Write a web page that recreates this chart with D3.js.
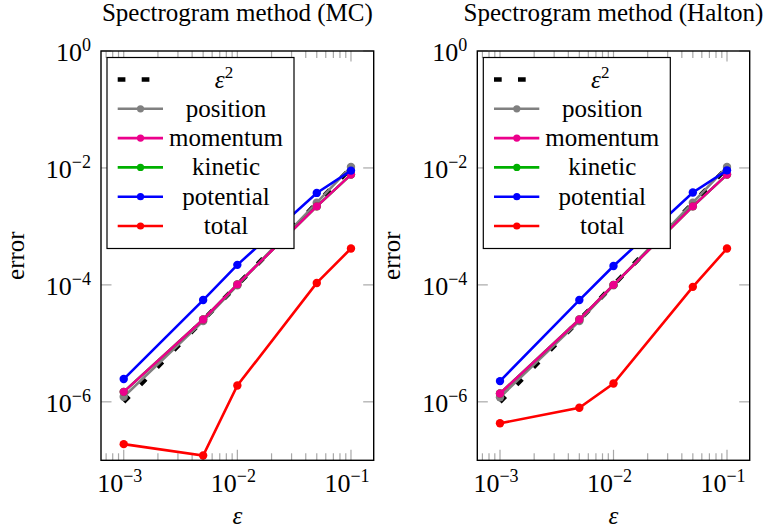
<!DOCTYPE html>
<html>
<head>
<meta charset="utf-8">
<script src="https://cdn.jsdelivr.net/npm/d3@7"></script>
<style>
  body { margin: 0; background: #fff; }
  svg { display: block; }
</style>
</head>
<body>
<div id="chart"></div>
<script>
// step sizes and reference ticks
const epsilon = [1e-3, 5e-3, 1e-2, 5e-2, 1e-1];
const epsSquared = [1e-6, 2.5e-5, 1e-4, 2.5e-3, 1e-2];
const xTickValues = [1e-3, 1e-2, 1e-1];
const yTickValues = [1e0, 1e-2, 1e-4, 1e-6];

// Monte Carlo panel errors
const mcPosition = [1.22e-6, 2.4e-5, 9.8e-5, 2.55e-3, 1.04e-2];
const mcMomentum = [1.48e-6, 2.56e-5, 1.02e-4, 2.2e-3, 7.7e-3];
const mcKinetic = [1.48e-6, 2.56e-5, 1.02e-4, 2.2e-3, 7.7e-3];
const mcPotential = [2.45e-6, 5.5e-5, 2.2e-4, 3.74e-3, 9.0e-3];
const mcTotal = [1.89e-7, 1.21e-7, 1.9e-6, 1.08e-4, 4.19e-4];

// Halton panel errors
const haltonPosition = [1.2e-6, 2.4e-5, 9.8e-5, 2.55e-3, 1.04e-2];
const haltonMomentum = [1.39e-6, 2.56e-5, 1.0e-4, 2.2e-3, 7.7e-3];
const haltonKinetic = [1.39e-6, 2.56e-5, 1.0e-4, 2.2e-3, 7.7e-3];
const haltonPotential = [2.26e-6, 5.5e-5, 2.1e-4, 3.8e-3, 9.1e-3];
const haltonTotal = [4.3e-7, 7.9e-7, 2.06e-6, 9.25e-5, 4.19e-4];

const legendNames = ["position", "momentum", "kinetic", "potential", "total"];
const seriesColors = {
  position: "#808080",
  momentum: "#ec008c",
  kinetic: "#00b000",
  potential: "#0000ff",
  total: "#ff0000"
};

const width = 780;
const height = 531;
const plotTop = 51;
const plotBottom = 460.3;
const serif = "'Liberation Serif', 'DejaVu Serif', serif";

const svg = d3.select("#chart")
  .append("svg")
  .attr("width", width)
  .attr("height", height)
  .attr("font-family", serif)
  .style("font-family", serif);

function superLabel(sel, exp) {
  sel.append("tspan").text("10");
  sel.append("tspan")
    .attr("font-size", 18)
    .attr("dy", -10)
    .text(exp === 0 ? "0" : "\u2212" + Math.abs(exp));
}

function renderPanel({ left, right, title, series, clipId }) {
  const x = d3.scaleLog().domain([Math.pow(10, -3.2), Math.pow(10, -0.8)]).range([left, right]);
  const y = d3.scaleLog().domain([1e-7, 1e0]).range([plotBottom, plotTop]);
  const g = svg.append("g");

  g.append("clipPath").attr("id", clipId)
    .append("rect")
    .attr("x", left).attr("y", plotTop)
    .attr("width", right - left).attr("height", plotBottom - plotTop);

  // minor + major x ticks on bottom and top
  const minors = [];
  for (let k = -4; k <= -1; k += 1) {
    for (let m = 2; m <= 9; m += 1) {
      const v = m * Math.pow(10, k);
      if (v > x.domain()[0] && v < x.domain()[1]) minors.push(v);
    }
  }
  const tickColor = "#a8a8a8";
  [plotBottom, plotTop].forEach((yy) => {
    const dir = yy === plotBottom ? -1 : 1;
    g.selectAll(null).data(minors).join("line")
      .attr("x1", (d) => x(d)).attr("x2", (d) => x(d))
      .attr("y1", yy).attr("y2", yy + dir * 7)
      .attr("stroke", tickColor).attr("stroke-width", 1.2);
    g.selectAll(null).data(xTickValues).join("line")
      .attr("x1", (d) => x(d)).attr("x2", (d) => x(d))
      .attr("y1", yy).attr("y2", yy + dir * 10.5)
      .attr("stroke", tickColor).attr("stroke-width", 1.2);
  });
  [left, right].forEach((xx) => {
    const dir = xx === left ? 1 : -1;
    g.selectAll(null).data(yTickValues).join("line")
      .attr("x1", xx).attr("x2", xx + dir * 10.5)
      .attr("y1", (d) => y(d)).attr("y2", (d) => y(d))
      .attr("stroke", tickColor).attr("stroke-width", 1.2);
  });

  // tick labels
  g.selectAll(null).data(xTickValues).join("text")
    .attr("x", (d) => x(d) - 4)
    .attr("y", 492)
    .attr("text-anchor", "middle")
    .attr("font-size", 26)
    .each(function (d) { superLabel(d3.select(this), Math.round(Math.log10(d))); });

  g.selectAll(null).data(yTickValues).join("text")
    .attr("x", left - 10)
    .attr("y", (d) => y(d) + 10)
    .attr("text-anchor", "end")
    .attr("font-size", 26)
    .each(function (d) { superLabel(d3.select(this), Math.round(Math.log10(d))); });

  // plot lines
  const line = d3.line().x((d) => x(d[0])).y((d) => y(d[1]));
  const plot = g.append("g").attr("clip-path", `url(#${clipId})`);

  plot.append("path")
    .attr("d", line(d3.zip(epsilon, epsSquared)))
    .attr("fill", "none")
    .attr("stroke", "#000")
    .attr("stroke-width", 4.6)
    .attr("stroke-dasharray", "7.7 16.3");

  ["position", "kinetic", "momentum", "potential", "total"].forEach((name) => {
    const pts = d3.zip(epsilon, series[name]);
    plot.append("path")
      .attr("d", line(pts))
      .attr("fill", "none")
      .attr("stroke", seriesColors[name])
      .attr("stroke-width", 2.6);
    plot.selectAll(null).data(pts).join("circle")
      .attr("cx", (d) => x(d[0]))
      .attr("cy", (d) => y(d[1]))
      .attr("r", 4.2)
      .attr("fill", seriesColors[name]);
  });

  // axis box
  g.append("rect")
    .attr("x", left).attr("y", plotTop)
    .attr("width", right - left).attr("height", plotBottom - plotTop)
    .attr("fill", "none").attr("stroke", "#000").attr("stroke-width", 1.4);

  // title and axis labels
  const cx = (left + right) / 2;
  g.append("text").attr("x", cx).attr("y", 21)
    .attr("text-anchor", "middle").attr("font-size", 25)
    .text(title);
  g.append("text").attr("x", cx).attr("y", 524)
    .attr("text-anchor", "middle").attr("font-size", 25).attr("font-style", "italic")
    .text("\u03b5");
  g.append("text")
    .attr("transform", `translate(${left - 77},${(plotTop + plotBottom) / 2}) rotate(-90)`)
    .attr("text-anchor", "middle").attr("font-size", 25)
    .text("error");

  // legend
  const lx = left + 6;
  const ly = 57.5;
  const legend = g.append("g").attr("transform", `translate(${lx},${ly})`);
  legend.append("rect")
    .attr("width", 187).attr("height", 191)
    .attr("fill", "#fff").attr("stroke", "#000").attr("stroke-width", 1.2);
  const rowY = (i) => 22 + i * 29.3;
  legend.append("line")
    .attr("x1", 10.7).attr("x2", 56).attr("y1", rowY(0)).attr("y2", rowY(0))
    .attr("stroke", "#000").attr("stroke-width", 4.6)
    .attr("stroke-dasharray", "7.7 16.3");
  const eps = legend.append("text")
    .attr("x", 117).attr("y", rowY(0) + 8)
    .attr("text-anchor", "middle").attr("font-size", 25);
  eps.append("tspan").attr("font-style", "italic").text("\u03b5");
  eps.append("tspan").attr("font-size", 17).attr("dy", -10).text("2");

  legendNames.forEach((name, i) => {
    const yy = rowY(i + 1);
    legend.append("line")
      .attr("x1", 10.7).attr("x2", 56).attr("y1", yy).attr("y2", yy)
      .attr("stroke", seriesColors[name]).attr("stroke-width", 2.6);
    legend.append("circle")
      .attr("cx", 33.5).attr("cy", yy).attr("r", 3.6)
      .attr("fill", seriesColors[name]);
    legend.append("text")
      .attr("x", 119).attr("y", yy + 8)
      .attr("text-anchor", "middle").attr("font-size", 25)
      .text(name);
  });
}

renderPanel({
  left: 101, right: 373.7,
  title: "Spectrogram method (MC)",
  clipId: "clip-mc",
  series: { position: mcPosition, momentum: mcMomentum, kinetic: mcKinetic, potential: mcPotential, total: mcTotal }
});
renderPanel({
  left: 477.3, right: 749.7,
  title: "Spectrogram method (Halton)",
  clipId: "clip-halton",
  series: { position: haltonPosition, momentum: haltonMomentum, kinetic: haltonKinetic, potential: haltonPotential, total: haltonTotal }
});
</script>
</body>
</html>
